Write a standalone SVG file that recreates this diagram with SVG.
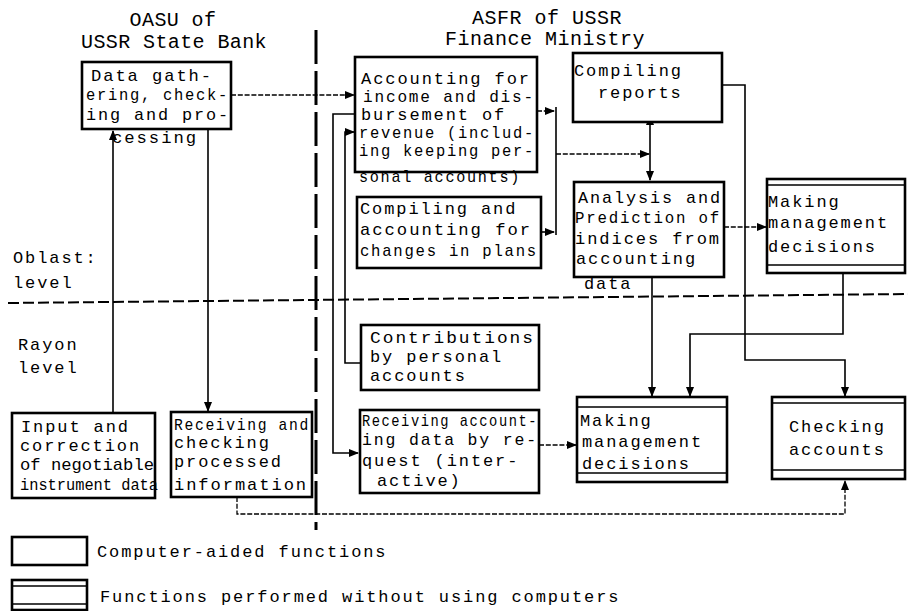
<svg xmlns="http://www.w3.org/2000/svg" width="908" height="611" viewBox="0 0 908 611">
<style>
text{font-family:"Liberation Mono","DejaVu Sans Mono",monospace;font-size:17px;letter-spacing:1.9px;fill:#000}
.h{font-size:20px;letter-spacing:0.4px}
.tight{letter-spacing:0px}
.box{fill:#fff;stroke:#000;stroke-width:2.6}
.inner{stroke:#000;stroke-width:1.3;fill:none}
.c{fill:none;stroke:#000;stroke-width:1.6}
.d{fill:none;stroke:#000;stroke-width:1.3;stroke-dasharray:5 1.8}
.div{fill:none;stroke:#000;stroke-width:3;stroke-dasharray:34 7}
.lvl{fill:none;stroke:#000;stroke-width:2;stroke-dasharray:11 4}
</style>
<defs>
<marker id="a" markerUnits="userSpaceOnUse" markerWidth="10" markerHeight="8" refX="9" refY="4" orient="auto">
<path d="M0,0 L10,4 L0,8 z" fill="#000"/>
</marker>
<marker id="as" markerUnits="userSpaceOnUse" markerWidth="10" markerHeight="8" refX="1" refY="4" orient="auto-start-reverse">
<path d="M0,0 L10,4 L0,8 z" fill="#000"/>
</marker>
</defs>
<rect width="908" height="611" fill="#fff"/>

<g id="headers">
<text class="h" x="173" y="26" text-anchor="middle">OASU of</text>
<text class="h" x="174" y="48" text-anchor="middle">USSR State Bank</text>
<text class="h" x="547" y="24" text-anchor="middle" textLength="150">ASFR of USSR</text>
<text class="h" x="545" y="45" text-anchor="middle" textLength="200">Finance Ministry</text>
</g>

<g id="levels">
<path class="lvl" d="M8,303 L908,294"/>
<path class="div" d="M316,30 L316,530"/>
<text x="13" y="263">Oblast:</text>
<text x="13" y="288">level</text>
<text x="18" y="350">Rayon</text>
<text x="18" y="373">level</text>
</g>

<g id="connectors">
<path class="d" d="M231,95 L354,95" marker-end="url(#a)"/>
<path class="c" d="M208,129 L208,411" marker-end="url(#a)"/>
<path class="c" d="M113,413 L113,131" marker-end="url(#a)"/>
<path class="d" d="M237,497 L237,514 L845,514 L845,481" marker-end="url(#a)"/>
<path class="c" d="M355,114 L333,114 L333,453 L358,453" marker-end="url(#a)"/>
<path class="c" d="M361,363 L345,363 L345,132 L354,132" marker-end="url(#a)"/>
<path class="d" d="M537,111 L554,111" marker-end="url(#a)"/>
<path class="c" d="M541,232 L554,232" marker-end="url(#a)"/>
<path class="c" d="M556,107 L556,235"/>
<path class="d" d="M556,154 L649,154" marker-end="url(#a)"/>
<path class="c" d="M650,124 L650,180" marker-start="url(#as)" marker-end="url(#a)"/>
<path class="d" d="M724,227 L766,227" marker-end="url(#a)"/>
<path class="c" d="M652,277 L652,396" marker-end="url(#a)"/>
<path class="c" d="M843,273 L843,334 L690,334 L690,396" marker-end="url(#a)"/>
<path class="c" d="M722,85 L745,85 L745,360 L845,360 L845,396" marker-end="url(#a)"/>
<path class="d" d="M539,445 L576,445" marker-end="url(#a)"/>
</g>

<g id="n-data-gathering">
<rect class="box" x="82" y="62" width="149" height="67"/>
<text x="91" y="81" textLength="122" lengthAdjust="spacingAndGlyphs">Data gath-</text>
<text x="86" y="100" textLength="143" lengthAdjust="spacingAndGlyphs">ering, check-</text>
<text x="86" y="120" textLength="144" lengthAdjust="spacingAndGlyphs">ing and pro-</text>
<text x="112" y="143" textLength="86" lengthAdjust="spacingAndGlyphs">cessing</text>
</g>

<g id="n-input">
<rect class="box" x="12" y="413" width="143" height="85"/>
<text x="21" y="432">Input and</text>
<text x="20" y="451">correction</text>
<text class="tight" x="20" y="470" textLength="134" lengthAdjust="spacingAndGlyphs">of negotiable</text>
<text class="tight" x="20" y="490" textLength="138" lengthAdjust="spacingAndGlyphs" style="font-size:16px">instrument data</text>
</g>

<g id="n-receiving-checking">
<rect class="box" x="171" y="412" width="141" height="85"/>
<text x="174" y="430" textLength="136" lengthAdjust="spacingAndGlyphs">Receiving and</text>
<text x="174" y="448">checking</text>
<text x="174" y="467">processed</text>
<text x="174" y="490" textLength="134" lengthAdjust="spacingAndGlyphs">information</text>
</g>

<g id="n-accounting">
<rect class="box" x="355" y="57" width="182" height="115"/>
<text x="361" y="84" textLength="170" lengthAdjust="spacingAndGlyphs">Accounting for</text>
<text x="363" y="102" textLength="172" lengthAdjust="spacingAndGlyphs">income and dis-</text>
<text x="361" y="120">bursement of</text>
<text x="359" y="138" textLength="176" lengthAdjust="spacingAndGlyphs">revenue (includ-</text>
<text x="359" y="156" textLength="176" lengthAdjust="spacingAndGlyphs">ing keeping per-</text>
<text x="359" y="182" textLength="162" lengthAdjust="spacingAndGlyphs">sonal accounts)</text>
</g>

<g id="n-plans">
<rect class="box" x="357" y="197" width="184" height="71"/>
<text x="360" y="214">Compiling and</text>
<text x="360" y="235" textLength="172" lengthAdjust="spacingAndGlyphs">accounting for</text>
<text x="360" y="256" textLength="178" lengthAdjust="spacingAndGlyphs">changes in plans</text>
</g>

<g id="n-contributions">
<rect class="box" x="361" y="325" width="178" height="65"/>
<text x="370" y="343" textLength="165" lengthAdjust="spacingAndGlyphs">Contributions</text>
<text x="370" y="362">by personal</text>
<text x="370" y="381">accounts</text>
</g>

<g id="n-request">
<rect class="box" x="360" y="410" width="179" height="83"/>
<text x="362" y="426" textLength="176" lengthAdjust="spacingAndGlyphs">Receiving account-</text>
<text x="362" y="445" textLength="176" lengthAdjust="spacingAndGlyphs">ing data by re-</text>
<text x="362" y="466">quest (inter-</text>
<text x="377" y="486">active)</text>
</g>

<g id="n-reports">
<rect class="box" x="573" y="53" width="149" height="69"/>
<text x="574" y="76">Compiling</text>
<text x="598" y="98">reports</text>
</g>

<g id="n-analysis">
<rect class="box" x="574" y="182" width="150" height="95"/>
<text x="578" y="203" textLength="144" lengthAdjust="spacingAndGlyphs">Analysis and</text>
<text x="575" y="223" textLength="146" lengthAdjust="spacingAndGlyphs">Prediction of</text>
<text x="575" y="244" textLength="146" lengthAdjust="spacingAndGlyphs">indices from</text>
<text x="576" y="264">accounting</text>
<text x="584" y="289">data</text>
</g>

<g id="n-decisions-top">
<rect class="box" x="767" y="179" width="138" height="94"/>
<path class="inner" d="M767,185 H905 M767,265 H905"/>
<text x="768" y="207">Making</text>
<text x="768" y="228">management</text>
<text x="768" y="252">decisions</text>
</g>

<g id="n-decisions-bottom">
<rect class="box" x="577" y="397" width="150" height="85"/>
<path class="inner" d="M577,407 H727 M577,473 H727"/>
<text x="580" y="426">Making</text>
<text x="582" y="447">management</text>
<text x="582" y="469">decisions</text>
</g>

<g id="n-checking">
<rect class="box" x="772" y="397" width="133" height="82"/>
<path class="inner" d="M772,403 H905 M772,470 H905"/>
<text x="789" y="432">Checking</text>
<text x="789" y="455">accounts</text>
</g>

<g id="legend">
<rect class="box" x="12" y="537" width="75" height="28"/>
<text x="97" y="557">Computer-aided functions</text>
<rect class="box" x="12" y="580" width="75" height="30"/>
<path class="inner" d="M12,586 H87 M12,604 H87"/>
<text x="100" y="602">Functions performed without using computers</text>
</g>
</svg>
